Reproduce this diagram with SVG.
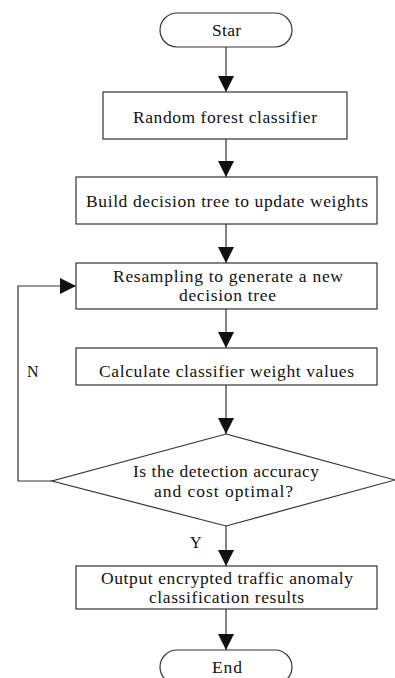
<svg xmlns="http://www.w3.org/2000/svg" width="395" height="678" viewBox="0 0 395 678">
  <style>
    .shape { fill: #ffffff; stroke: #333333; stroke-width: 1.2; }
    .edge { fill: none; stroke: #333333; stroke-width: 1.2; }
    .label { font-family: 'Liberation Serif', 'Times New Roman', 'DejaVu Serif', serif; font-size: 17.5px; fill: #111111; }
    .tag { font-family: 'Liberation Serif', 'Times New Roman', 'DejaVu Serif', serif; font-size: 16px; fill: #111111; }
  </style>
  <defs>
    <marker id="arrow" markerUnits="userSpaceOnUse" markerWidth="16" markerHeight="16" viewBox="0 0 16 16" refX="16" refY="8" orient="auto">
      <path d="M0,0 L16,8 L0,16 Z" fill="#111111"/>
    </marker>
  </defs>
  <rect width="395" height="678" fill="#ffffff"/>

  <g id="connectors">
    <line class="edge" x1="226" y1="47" x2="226" y2="92" marker-end="url(#arrow)"/>
    <line class="edge" x1="226" y1="139" x2="226" y2="177" marker-end="url(#arrow)"/>
    <line class="edge" x1="226" y1="224" x2="226" y2="263" marker-end="url(#arrow)"/>
    <line class="edge" x1="226" y1="309" x2="226" y2="348" marker-end="url(#arrow)"/>
    <line class="edge" x1="226" y1="385" x2="226" y2="434" marker-end="url(#arrow)"/>
    <line class="edge" x1="226" y1="526" x2="226" y2="566" marker-end="url(#arrow)"/>
    <line class="edge" x1="226" y1="609" x2="226" y2="650" marker-end="url(#arrow)"/>
    <polyline class="edge" points="52,481 18,481 18,286 76,286" marker-end="url(#arrow)"/>
    <text class="tag" x="27" y="377">N</text>
    <text class="tag" x="190" y="548">Y</text>
  </g>

  <g id="start">
    <rect class="shape" x="160" y="13" width="132" height="34" rx="17" ry="17"/>
    <text class="label" x="212" y="36" textLength="29" lengthAdjust="spacing">Star</text>
  </g>

  <g id="random-forest">
    <rect class="shape" x="103" y="92" width="244" height="47"/>
    <text class="label" x="133" y="123" textLength="184" lengthAdjust="spacing">Random forest classifier</text>
  </g>

  <g id="build-tree">
    <rect class="shape" x="76" y="177" width="301" height="47"/>
    <text class="label" x="86" y="207" textLength="282" lengthAdjust="spacing">Build decision tree to update weights</text>
  </g>

  <g id="resampling">
    <rect class="shape" x="76" y="263" width="301" height="46"/>
    <text class="label" x="113" y="282" textLength="230" lengthAdjust="spacing">Resampling to generate a new</text>
    <text class="label" x="179" y="301" textLength="97" lengthAdjust="spacing">decision tree</text>
  </g>

  <g id="calculate-weights">
    <rect class="shape" x="76" y="348" width="301" height="37"/>
    <text class="label" x="99" y="377" textLength="255" lengthAdjust="spacing">Calculate classifier weight values</text>
  </g>

  <g id="decision">
    <polygon class="shape" points="226,434 395,480 226,526 52,481"/>
    <text class="label" x="133" y="477" textLength="186" lengthAdjust="spacing">Is the detection accuracy</text>
    <text class="label" x="154" y="497" textLength="139" lengthAdjust="spacing">and cost optimal?</text>
  </g>

  <g id="output">
    <rect class="shape" x="76" y="566" width="301" height="43"/>
    <text class="label" x="101" y="584" textLength="252" lengthAdjust="spacing">Output encrypted traffic anomaly</text>
    <text class="label" x="149" y="603" textLength="155" lengthAdjust="spacing">classification results</text>
  </g>

  <g id="end">
    <rect class="shape" x="160" y="650" width="132" height="34" rx="17" ry="17"/>
    <text class="label" x="212" y="673" textLength="30" lengthAdjust="spacing">End</text>
  </g>
</svg>
